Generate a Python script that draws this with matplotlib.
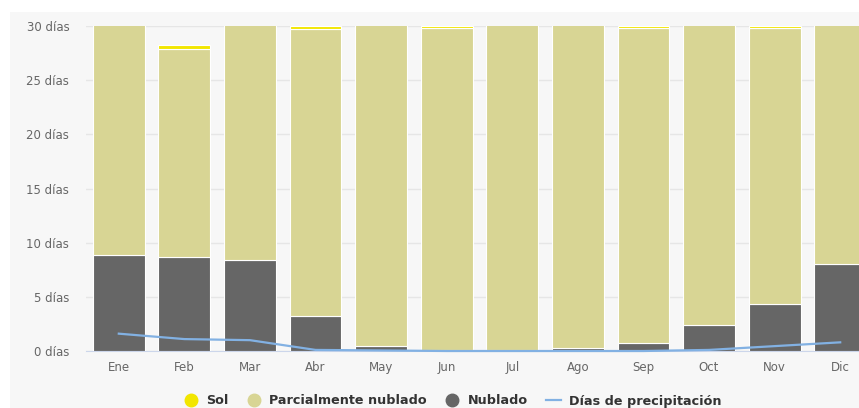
import matplotlib.pyplot as plt
import numpy as np
from matplotlib.patches import Rectangle
from matplotlib.lines import Line2D

months = ["Ene", "Feb", "Mar", "Abr", "May", "Jun", "Jul", "Ago", "Sep", "Oct", "Nov", "Dic"]
days_in_month = [31, 28.2, 31, 30, 31, 30, 31, 31, 30, 31, 30, 31]
nublado = [8.9, 8.7, 8.4, 3.2, 0.5, 0.1, 0.1, 0.3, 0.7, 2.4, 4.3, 8.0]
sol = [0.0, 0.3, 0.0, 0.3, 0.0, 0.2, 0.0, 0.0, 0.2, 0.0, 0.2, 0.0]
precipitacion = [1.6, 1.1, 1.0, 0.1, 0.05, 0.0, 0.0, 0.0, 0.0, 0.1, 0.45, 0.8]
yticks = [0, 5, 10, 15, 20, 25, 30]

nublado = np.array(nublado)
sol = np.array(sol)
parcial = np.array(days_in_month) - nublado - sol

C_SOL = "#f2e600"
C_PARCIAL = "#d8d594"
C_NUBLADO = "#666666"
C_PRECIP = "#82b1e3"
BG = "#f7f7f7"

fig = plt.figure(figsize=(8.59, 4.08), dpi=100)
fig.patch.set_facecolor("white")
# light panel behind the whole chart, offset from the top-left edge
fig.patches.append(Rectangle((10 / 859, 0), 1, 1 - 12 / 408, transform=fig.transFigure,
                             facecolor=BG, edgecolor="none", zorder=-1))

ax = fig.add_axes([86 / 859, 57 / 408, 787 / 859, 325 / 408])
ax.set_facecolor(BG)

x = np.arange(len(months))
w = 0.79
ax.bar(x, nublado, w, color=C_NUBLADO, edgecolor="white", linewidth=0.8, zorder=2)
ax.bar(x, parcial, w, bottom=nublado, color=C_PARCIAL, edgecolor="white", linewidth=0.8, zorder=2)
ax.bar(x, sol, w, bottom=nublado + parcial, color=C_SOL, edgecolor="white", linewidth=0.8, zorder=2)
ax.plot(x, precipitacion, color=C_PRECIP, lw=1.6, zorder=3, clip_on=False)

ax.set_xlim(-0.5, len(months) - 0.5)
ax.set_ylim(0, 30)
ax.set_yticks(yticks)
ax.set_yticklabels([f"{v} días" for v in yticks])
ax.set_xticks(x)
ax.set_xticklabels(months)
ax.tick_params(axis="y", length=0, pad=12, labelsize=8.5, labelcolor="#666666")
ax.tick_params(axis="x", length=0, pad=7, labelsize=8.5, labelcolor="#666666")
ax.grid(axis="y", color="#e6e6e6", lw=1, zorder=0)
for s in ["top", "right", "left"]:
    ax.spines[s].set_visible(False)
ax.spines["bottom"].set_color("#ccd6eb")
ax.spines["bottom"].set_zorder(1)

handles = [
    Line2D([], [], marker="o", ls="none", ms=9, color=C_SOL),
    Line2D([], [], marker="o", ls="none", ms=9, color=C_PARCIAL),
    Line2D([], [], marker="o", ls="none", ms=9, color=C_NUBLADO),
    Line2D([], [], color=C_PRECIP, lw=1.6),
]
labels = ["Sol", "Parcialmente nublado", "Nublado", "Días de precipitación"]
fig.legend(handles, labels, loc="center", bbox_to_anchor=(452 / 859, 1 - 401 / 408), ncol=4,
           frameon=False, prop={"weight": "bold", "size": 9.2}, labelcolor="#333333",
           handlelength=1.2, handletextpad=0.6, columnspacing=1.4)

fig.savefig("out.png", dpi=100, facecolor="white")
